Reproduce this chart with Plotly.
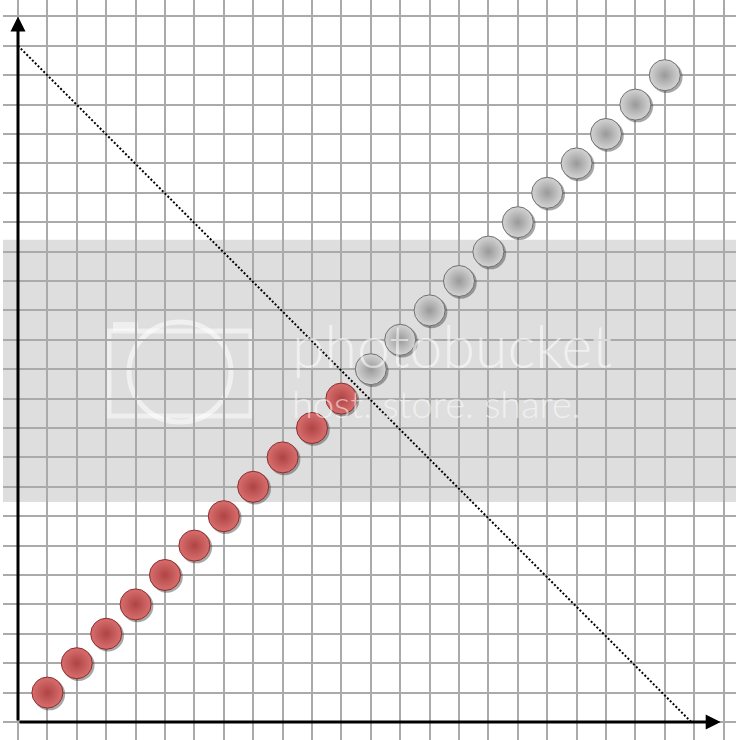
import plotly.graph_objects as go

# data
red_x = [1, 2, 3, 4, 5, 6, 7, 8, 9, 10, 11]
red_y = [1, 2, 3, 4, 5, 6, 7, 8, 9, 10, 11]
gray_x = [12, 13, 14, 15, 16, 17, 18, 19, 20, 21, 22]
gray_y = [12, 13, 14, 15, 16, 17, 18, 19, 20, 21, 22]
diag_x = [0, 22.9]
diag_y = [23, 0]
band_y = [7.48, 16.4]

W, H = 736, 740
UNIT = 29.4       # pixels per grid step
OX, OY = 18, 722  # pixel position of the origin
L = 3

x_range = [(L - OX) / UNIT, (W - OX) / UNIT]
y_range = [(OY - H) / UNIT, OY / UNIT]


def dx(p):
    return (p - OX) / UNIT


def dy(p):
    return (OY - p) / UNIT


fig = go.Figure()

fig.add_trace(go.Scatter(x=diag_x, y=diag_y, mode="lines",
                         line=dict(color="black", width=2, dash="2px,2px"),
                         hoverinfo="skip"))

shadow = 0.06
for xs, ys, c_in, c_out, edge in [
        (red_x, red_y, "#d86e6e", "#b04444", "#8a2e2e"),
        (gray_x, gray_y, "#d4d4d4", "#999999", "#707070")]:
    fig.add_trace(go.Scatter(x=[v + shadow for v in xs], y=[v - shadow for v in ys],
                             mode="markers",
                             marker=dict(size=32, color="rgba(60,60,60,0.45)", line=dict(width=0)),
                             hoverinfo="skip"))
    fig.add_trace(go.Scatter(x=xs, y=ys, mode="markers",
                             marker=dict(size=31, color=c_in,
                                         gradient=dict(type="radial", color=c_out),
                                         line=dict(width=1, color=edge))))

shapes = [
    dict(type="rect", xref="paper", yref="y", x0=0, x1=1, y0=band_y[0], y1=band_y[1],
         fillcolor="#dedede", line=dict(width=0), layer="below"),
    # watermark camera
    dict(type="rect", x0=dx(109), x1=dx(251), y0=dy(331), y1=dy(416),
         line=dict(color="rgba(255,255,255,0.5)", width=5), layer="below"),
    dict(type="rect", x0=dx(113), x1=dx(138), y0=dy(322), y1=dy(331),
         fillcolor="rgba(255,255,255,0.5)", line=dict(width=0), layer="below"),
    dict(type="circle", x0=dx(129), x1=dx(231), y0=dy(322), y1=dy(422),
         line=dict(color="rgba(255,255,255,0.55)", width=5), layer="below"),
]

annotations = [
    dict(x=0, y=24, ax=0, ay=0, xref="x", yref="y", axref="x", ayref="y",
         showarrow=True, arrowhead=2, arrowsize=1, arrowwidth=3, arrowcolor="black", text=""),
    dict(x=23.9, y=0, ax=0, ay=0, xref="x", yref="y", axref="x", ayref="y",
         showarrow=True, arrowhead=2, arrowsize=1, arrowwidth=3, arrowcolor="black", text=""),
    dict(x=dx(290), y=dy(345), xref="x", yref="y", xanchor="left", yanchor="middle",
         text="photobucket", showarrow=False,
         font=dict(family="Lato", size=59, color="rgba(255,255,255,0.55)", weight=300)),
    dict(x=dx(290), y=dy(403), xref="x", yref="y", xanchor="left", yanchor="middle",
         text="host. store. share.", showarrow=False,
         font=dict(family="Lato", size=38, color="rgba(255,255,255,0.55)", weight=300)),
]

axis_style = dict(dtick=1, tick0=0, showgrid=True, gridcolor="#aaaaaa", gridwidth=1.5,
                  zeroline=False, showline=False, showticklabels=False, ticks="",
                  fixedrange=True)

fig.update_layout(
    width=W, height=H,
    margin=dict(l=L, r=0, t=0, b=0),
    plot_bgcolor="white", paper_bgcolor="white",
    showlegend=False,
    xaxis=dict(range=x_range, **axis_style),
    yaxis=dict(range=y_range, **axis_style),
    shapes=shapes,
    annotations=annotations,
)

# the page's default body margin would push the figure 8px down and right
fig.write_html("out.html", config={"displayModeBar": False},
               post_script="document.body.style.margin='0px';")
